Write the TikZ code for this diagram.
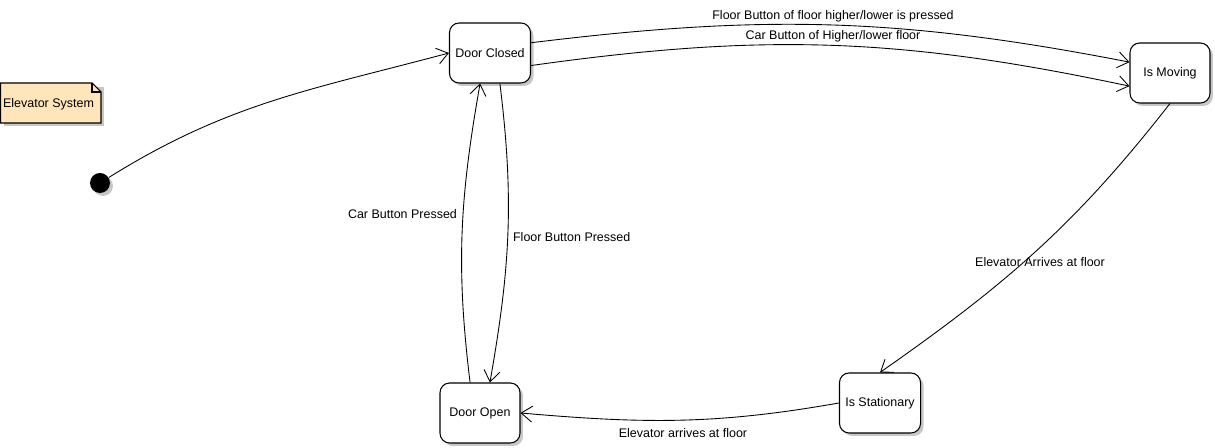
\documentclass[tikz,border=0pt]{standalone}
\usepackage{fontspec}
\setmainfont{Liberation Sans}
\usetikzlibrary{arrows.meta,shadows}
\definecolor{notefill}{RGB}{255,230,186}

\begin{document}
\begin{tikzpicture}[x=0.02cm, y=0.02cm,
  every node/.style={font=\fontsize{7.1}{8.5}\selectfont},
  shade/.style={drop shadow={shadow xshift=1.7pt, shadow yshift=-1.7pt, fill=black!22, opacity=1}},
  state/.style={draw, fill=white, rounded corners=5.5pt, line width=0.6pt,
    minimum width=1.6cm, minimum height=1.2cm, shade},
  trans/.style={-{Straight Barb[length=2.2mm, width=3.2mm]}, line width=0.5pt},
  lbl/.style={inner sep=1pt}]
  \useasboundingbox (0,0) rectangle (1215,448);

  % states
  \node[state] (dc) at (490,395) {Door Closed};
  \node[state] (im) at (1170,375) {Is Moving};
  \node[state] (do) at (480,35) {Door Open};
  \node[state] (is) at (880,45) {Is Stationary};
  \node[circle, fill=black, minimum size=0.4cm, inner sep=0pt, shade] (init) at (100,265) {};

  % note
  \fill[black!22] (4,322) rectangle (104,361);
  \draw[fill=notefill, line width=0.6pt] (0.5,325) -- (0.5,365) -- (92,365) -- (101,356) -- (101,325) -- cycle;
  \draw[line width=0.6pt] (92,365) -- (92,356) -- (101,356);
  \node[anchor=west, lbl] (sys) at (1,344) {Elevator System};

  % transitions
  \draw[trans] (init) to[out=32, in=195] (dc.west);
  \draw[trans] (dc.14) to[out=7, in=169] (im.165);
  \draw[trans] (dc.-17) to[out=8, in=168] (im.198);
  \draw[trans] (dc.-72) to[out=-83, in=80] (do.72);
  \draw[trans] (do.108) to[out=97, in=260] (dc.-108);
  \draw[trans] (im.south) to[out=232, in=35] (is.north);
  \draw[trans] (is.west) to[out=190, in=-5] (do.east);

  % labels
  \node[lbl] (lfh) at (833,432) {Floor Button of floor higher/lower is pressed};
  \node[lbl] (lch) at (833,412) {Car Button of Higher/lower floor};
  \node[lbl, anchor=east] (lcp) at (459,234) {Car Button Pressed};
  \node[lbl, anchor=west] (lfp) at (511,211) {Floor Button Pressed};
  \node[lbl] (lea) at (1040,186) {Elevator Arrives at floor};
  \node[lbl] (lef) at (683,15) {Elevator arrives at floor};
\end{tikzpicture}
\end{document}
